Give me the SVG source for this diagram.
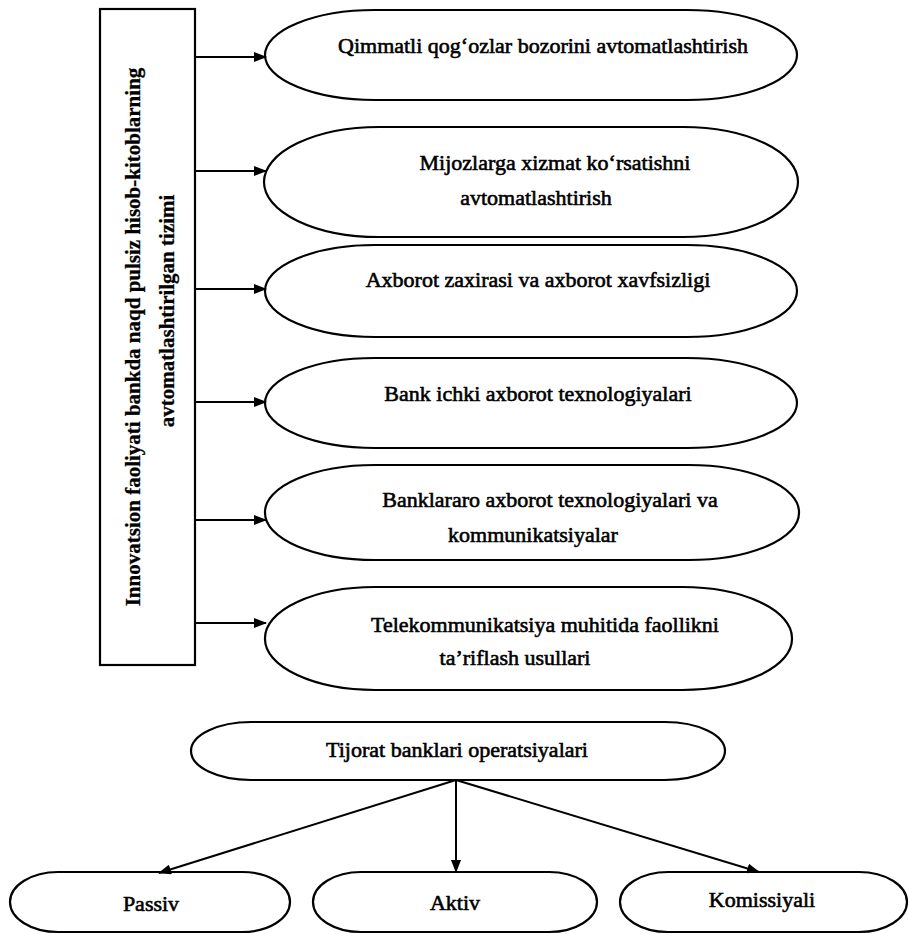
<svg xmlns="http://www.w3.org/2000/svg" width="909" height="934" viewBox="0 0 909 934">
<style>
.n{fill:#fff;stroke:#000;stroke-width:2.2}
.t{font-family:"Liberation Serif","Times New Roman",serif;font-size:22px;fill:#000;text-anchor:middle;stroke:#000;stroke-width:0.6}
.b{font-weight:bold;font-size:21px;stroke-width:0.3}
.c{stroke:#000;stroke-width:2;fill:none;marker-end:url(#a)}
</style>
<defs>
<marker id="a" markerUnits="userSpaceOnUse" markerWidth="13" markerHeight="10" refX="12" refY="5" orient="auto"><path d="M0,0 L13,5 L0,10 z" fill="#000"/></marker>
</defs>
<rect width="909" height="934" fill="#fff"/>
<g id="system">
<rect class="n" x="100" y="9" width="95" height="656"/>
<text class="t b" transform="translate(140,337) rotate(-90)">Innovatsion faoliyati bankda naqd pulsiz hisob-kitoblarning</text>
<text class="t b" transform="translate(174,311) rotate(-90)">avtomatlashtirilgan  tizimi</text>
</g>
<g id="n1">
<rect class="n" x="265" y="10" width="532" height="90" rx="110" ry="45"/>
<text class="t" x="543" y="53">Qimmatli qog‘ozlar bozorini avtomatlashtirish</text>
</g>
<g id="n2">
<rect class="n" x="264" y="127" width="534" height="110" rx="115" ry="55"/>
<text class="t" x="555" y="170">Mijozlarga xizmat ko‘rsatishni</text>
<text class="t" x="536" y="205">avtomatlashtirish</text>
</g>
<g id="n3">
<rect class="n" x="265" y="245" width="532" height="92" rx="110" ry="46"/>
<text class="t" x="538" y="287">Axborot zaxirasi va axborot xavfsizligi</text>
</g>
<g id="n4">
<rect class="n" x="265" y="358" width="532" height="90" rx="110" ry="45"/>
<text class="t" x="538" y="401">Bank ichki axborot texnologiyalari</text>
</g>
<g id="n5">
<rect class="n" x="265" y="465" width="534" height="95" rx="110" ry="47"/>
<text class="t" x="550" y="507">Banklararo axborot texnologiyalari va</text>
<text class="t" x="533" y="542">kommunikatsiyalar</text>
</g>
<g id="n6">
<rect class="n" x="265" y="587" width="527" height="103" rx="110" ry="51"/>
<text class="t" x="545" y="632">Telekommunikatsiya muhitida faollikni</text>
<text class="t" x="515" y="665">ta’riflash usullari</text>
</g>
<g id="ops">
<rect class="n" x="191" y="722" width="534" height="58" rx="60" ry="29"/>
<text class="t" x="457" y="757">Tijorat banklari operatsiyalari</text>
</g>
<g id="passiv">
<rect class="n" x="10" y="872" width="280" height="60" rx="48" ry="30"/>
<text class="t" x="151" y="911">Passiv</text>
</g>
<g id="aktiv">
<rect class="n" x="313" y="872" width="284" height="60" rx="48" ry="30"/>
<text class="t" x="455" y="910">Aktiv</text>
</g>
<g id="komissiyali">
<rect class="n" x="620" y="872" width="287" height="60" rx="48" ry="30"/>
<text class="t" x="762" y="907">Komissiyali</text>
</g>
<g id="connectors">
<line class="c" x1="195" y1="57" x2="266" y2="57"/>
<line class="c" x1="195" y1="171" x2="266" y2="171"/>
<line class="c" x1="195" y1="289" x2="266" y2="289"/>
<line class="c" x1="195" y1="402" x2="266" y2="402"/>
<line class="c" x1="195" y1="520" x2="266" y2="520"/>
<line class="c" x1="195" y1="623" x2="266" y2="623"/>
<line class="c" x1="456" y1="780" x2="159" y2="873"/>
<line class="c" x1="456" y1="780" x2="456" y2="872"/>
<line class="c" x1="456" y1="780" x2="759" y2="872"/>
</g>
</svg>
